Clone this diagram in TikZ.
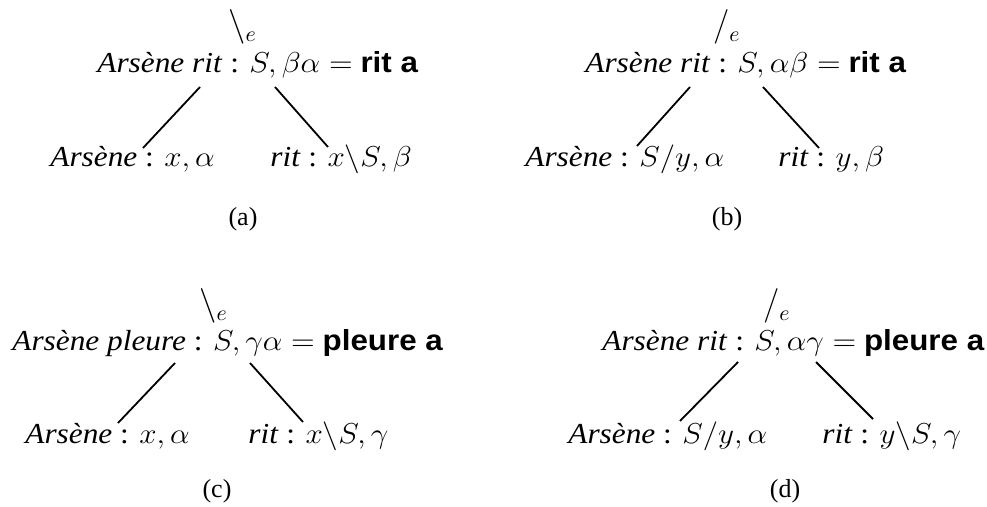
\documentclass[tikz,border=0pt]{standalone}
\usepackage{graphicx}
\usepackage{fontspec}
\setmainfont{Liberation Serif}
\newfontfamily\hv{Liberation Sans}
\newcommand\stretchtxt[1]{\scalebox{1.08}[1]{#1}}
\begin{document}
\begin{tikzpicture}[x=0.5pt,y=-0.5pt,
  txt/.style={anchor=base west,inner sep=0pt,font=\fontsize{14.5}{17}\selectfont},
  sublabel/.style={anchor=base,inner sep=0pt,font=\fontsize{13}{15}\selectfont},
  opmark/.style={anchor=base west,inner sep=0pt,font=\fontsize{16}{18}\selectfont},
  branch/.style={line width=0.9pt}]
\useasboundingbox (0,0) rectangle (987,507);
% (a)
\node[opmark] (ma) at (228,36) {$\backslash_e$};
\node[txt] (ta) at (97,73) {\stretchtxt{\textit{Arsène rit} : $S,\beta\alpha =$ {\hv\bfseries rit a}}};
\node[txt] (la) at (50,167) {\stretchtxt{\textit{Arsène} : $x,\alpha$}};
\node[txt] (ra) at (270,167) {\stretchtxt{\textit{rit} : $x\backslash S,\beta$}};
\node[sublabel] (ca) at (243,226) {(a)};
\coordinate (a1) at (200,87); \coordinate (a2) at (143,148);
\coordinate (a3) at (275,87); \coordinate (a4) at (328,147);
\draw[branch] (a1) -- (a2); \draw[branch] (a3) -- (a4);
% (b)
\node[opmark] (mb) at (713,36) {$/_e$};
\node[txt] (tb) at (585,73) {\stretchtxt{\textit{Arsène rit} : $S,\alpha\beta =$ {\hv\bfseries rit a}}};
\node[txt] (lb) at (525,167) {\stretchtxt{\textit{Arsène} : $S/y,\alpha$}};
\node[txt] (rb) at (778,167) {\stretchtxt{\textit{rit} : $y,\beta$}};
\node[sublabel] (cb) at (727,226) {(b)};
\coordinate (b1) at (690,87); \coordinate (b2) at (637,146);
\coordinate (b3) at (763,87); \coordinate (b4) at (819,148);
\draw[branch] (b1) -- (b2); \draw[branch] (b3) -- (b4);
% (c)
\node[opmark] (mc) at (199,315) {$\backslash_e$};
\node[txt] (tc) at (12,351) {\stretchtxt{\textit{Arsène pleure} : $S,\gamma\alpha =$ {\hv\bfseries pleure a}}};
\node[txt] (lc) at (25,444) {\stretchtxt{\textit{Arsène} : $x,\alpha$}};
\node[txt] (rc) at (248,444) {\stretchtxt{\textit{rit} : $x\backslash S,\gamma$}};
\node[sublabel] (cc) at (217,498) {(c)};
\coordinate (c1) at (175,363); \coordinate (c2) at (118,423);
\coordinate (c3) at (250,363); \coordinate (c4) at (303,422);
\draw[branch] (c1) -- (c2); \draw[branch] (c3) -- (c4);
% (d)
\node[opmark] (md) at (763,315) {$/_e$};
\node[txt] (td) at (602,351) {\stretchtxt{\textit{Arsène rit} : $S,\alpha\gamma =$ {\hv\bfseries pleure a}}};
\node[txt] (ld) at (568,444) {\stretchtxt{\textit{Arsène} : $S/y,\alpha$}};
\node[txt] (rd) at (822,444) {\stretchtxt{\textit{rit} : $y\backslash S,\gamma$}};
\node[sublabel] (cd) at (785,498) {(d)};
\coordinate (d1) at (738,362); \coordinate (d2) at (680,421);
\coordinate (d3) at (816,362); \coordinate (d4) at (873,419);
\draw[branch] (d1) -- (d2); \draw[branch] (d3) -- (d4);
\end{tikzpicture}
\end{document}
